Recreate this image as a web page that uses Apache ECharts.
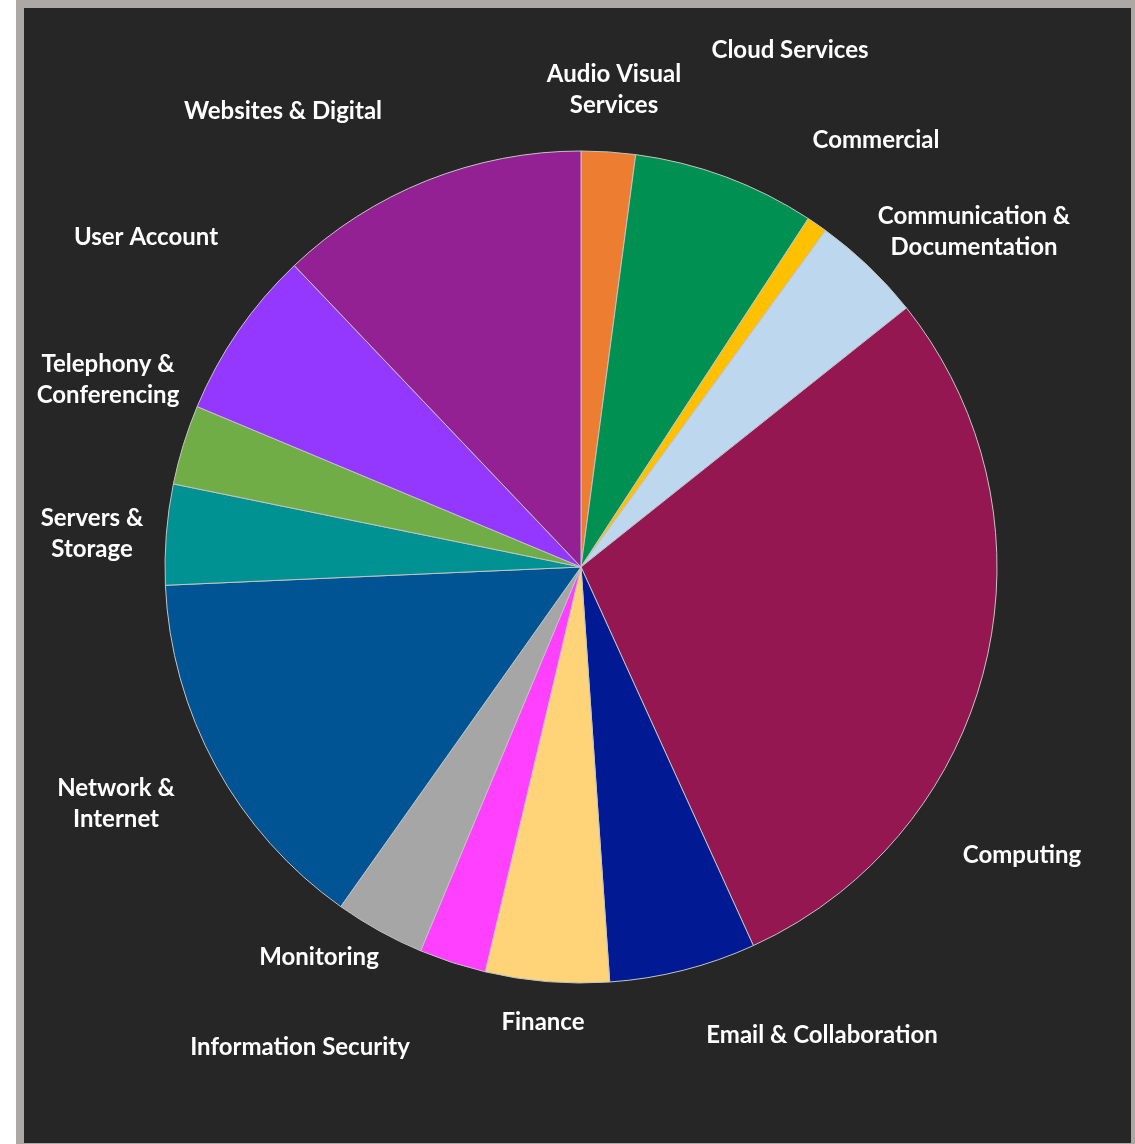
<!DOCTYPE html>
<html>
<head>
<meta charset="utf-8">
<title>Requests by Category</title>
<script src="https://cdn.jsdelivr.net/npm/echarts@6/dist/echarts.min.js"></script>
<style>
  html, body { margin: 0; padding: 0; background: #ffffff; }
  #frame { position: absolute; left: 16px; top: 0; width: 1119px; height: 1144px; background: #aca8a6; }
  #panel { position: absolute; left: 24px; top: 8px; width: 1107px; height: 1135px; background: #262626; }
  #chart { position: absolute; left: 0; top: 0; width: 1135px; height: 1144px; }
</style>
</head>
<body>
<div id="frame"></div>
<div id="panel"></div>
<div id="chart"></div>
<script>
// Categories, clockwise from 12 o'clock
const categories = [
  'Audio Visual Services', 'Cloud Services', 'Commercial',
  'Communication & Documentation', 'Computing', 'Email & Collaboration',
  'Finance', 'Information Security', 'Monitoring', 'Network & Internet',
  'Servers & Storage', 'Telephony & Conferencing', 'User Account',
  'Websites & Digital'
];

// Share of requests (%)
const shares = [2.1, 7.1, 0.8, 4.3, 28.9, 5.7, 4.8, 2.6, 3.5, 14.5, 3.9, 3.1, 6.6, 12.1];

// Label text as wrapped on the chart
const labelTexts = [
  'Audio Visual\nServices', 'Cloud Services', 'Commercial',
  'Communication &\nDocumentation', 'Computing', 'Email & Collaboration',
  'Finance', 'Information Security', 'Monitoring', 'Network &\nInternet',
  'Servers &\nStorage', 'Telephony &\nConferencing', 'User Account',
  'Websites & Digital'
];

const sliceColors = [
  '#ed7d31', '#009051', '#ffc000', '#bdd7ee', '#941751', '#011993',
  '#ffd479', '#ff40ff', '#a6a6a6', '#005493', '#009193', '#70ad47',
  '#9437ff', '#942193'
];

// Pie geometry and label anchor offsets from the pie centre (px)
const pieCenter = [581, 567];
const pieRadius = 416;
const labelOffsets = [
  [33, -477], [209, -517], [295, -427], [393, -335], [441, 288], [241, 468],
  [-38, 455], [-281, 480], [-262, 390], [-465, 237], [-489, -33], [-473, -187],
  [-435, -330], [-298, -456]
];

const chart = echarts.init(document.getElementById('chart'), null, { renderer: 'canvas' });

chart.setOption({
  animation: false,
  backgroundColor: 'transparent',
  series: [{
    type: 'pie',
    center: pieCenter,
    radius: pieRadius,
    startAngle: 90,
    clockwise: true,
    avoidLabelOverlap: false,
    data: categories.map((name, i) => ({
      name: name,
      value: shares[i],
      itemStyle: { color: sliceColors[i] },
      label: { formatter: labelTexts[i] }
    })),
    itemStyle: { borderColor: '#c4c4c4', borderWidth: 1 },
    label: {
      show: true,
      position: 'outside',
      color: '#ffffff',
      fontFamily: 'Lato',
      fontWeight: 'bold',
      fontSize: 24,
      lineHeight: 31,
      align: 'center'
    },
    labelLine: { show: false },
    labelLayout: function (params) {
      const off = labelOffsets[params.dataIndex];
      return {
        x: pieCenter[0] + off[0],
        y: pieCenter[1] + off[1],
        align: 'center',
        verticalAlign: 'middle'
      };
    },
    emphasis: { disabled: true }
  }]
});
</script>
</body>
</html>
